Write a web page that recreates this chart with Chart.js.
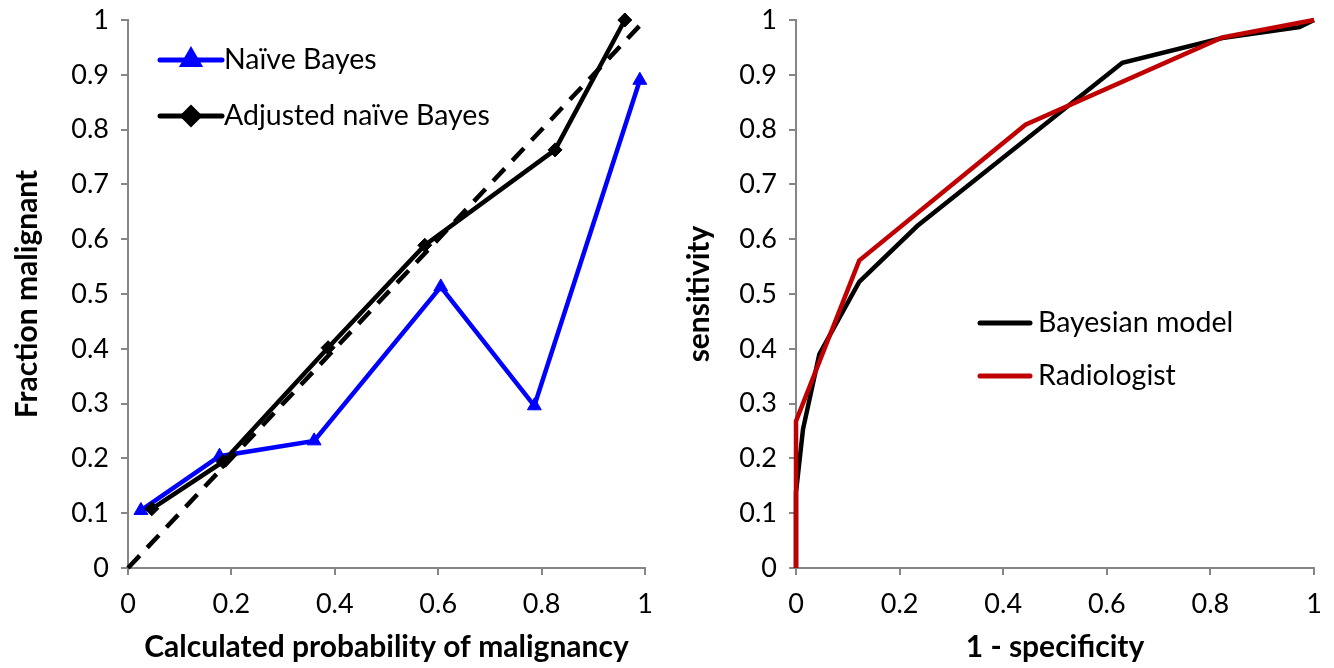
<!DOCTYPE html>
<html>
<head>
<meta charset="utf-8">
<script src="https://cdn.jsdelivr.net/npm/chart.js@4.4.1/dist/chart.umd.min.js"></script>
<style>
html, body { margin: 0; padding: 0; background: #fff; }
#wrap { position: relative; width: 1334px; height: 668px; }
.box { position: absolute; top: 0; width: 667px; height: 668px; }
#left { left: 0; }
#right { left: 667px; }
</style>
</head>
<body>
<div id="wrap">
    <div class="box" id="left"><canvas id="calib"></canvas></div>
    <div class="box" id="right"><canvas id="roc"></canvas></div>
</div>
<script>
// Calibration plot data
const naiveX = [0.025, 0.177, 0.36, 0.605, 0.786, 0.99];
const naiveY = [0.105, 0.204, 0.232, 0.513, 0.296, 0.89];
const adjX = [0.046, 0.184, 0.387, 0.574, 0.826, 0.961];
const adjY = [0.108, 0.194, 0.402, 0.589, 0.763, 1.0];
const diagX = [0, 1];
const diagY = [0, 1];

// ROC data
const bayesX = [0, 0, 0.0135, 0.045, 0.122, 0.234, 0.63, 0.823, 0.972, 1];
const bayesY = [0, 0.138, 0.253, 0.39, 0.522, 0.624, 0.922, 0.967, 0.987, 1];
const radX = [0, 0, 0.122, 0.443, 0.823, 1];
const radY = [0, 0.268, 0.561, 0.809, 0.968, 1];

// Tick labels
const xTicks = ['0', '0.2', '0.4', '0.6', '0.8', '1'];
const yTicks = ['0', '0.1', '0.2', '0.3', '0.4', '0.5', '0.6', '0.7', '0.8', '0.9', '1'];

const FONT = 'Lato, "Open Sans", sans-serif';
const AXIS_GRAY = '#868686';

function toPoints(xs, ys) {
    return xs.map((x, i) => ({ x: x, y: ys[i] }));
}

// Legend drawn inside the plot area, stacked vertically
const insideLegend = {
    id: 'insideLegend',
    afterDraw(chart, args, opts) {
        const ctx = chart.ctx;
        const area = chart.chartArea;
        opts.items.forEach((idx, k) => {
            const ds = chart.data.datasets[idx];
            const x0 = area.left + opts.x;
            const y = area.top + opts.y + k * opts.gap;
            ctx.save();
            ctx.strokeStyle = ds.borderColor;
            ctx.lineWidth = 5;
            ctx.lineCap = 'round';
            ctx.beginPath();
            ctx.moveTo(x0, y);
            ctx.lineTo(x0 + opts.len, y);
            ctx.stroke();
            if (ds.pointRadius > 0) {
                ctx.fillStyle = ds.pointBackgroundColor;
                ctx.strokeStyle = ds.borderColor;
                Chart.helpers.drawPoint(ctx, { pointStyle: ds.pointStyle, radius: ds.pointRadius + 1, borderWidth: 1 }, x0 + opts.len / 2, y);
            }
            ctx.fillStyle = '#000';
            ctx.font = opts.fontSize + 'px ' + FONT;
            ctx.textBaseline = 'middle';
            ctx.fillText(ds.label, x0 + opts.len + opts.textGap, y);
            ctx.restore();
        });
    }
};

function axes(xTitle, yTitle, yWidth, yTitlePad) {
    const grid = { display: true, drawOnChartArea: false, drawTicks: true, tickLength: 7, color: AXIS_GRAY, lineWidth: 2 };
    return {
        x: {
            type: 'linear', min: 0, max: 1,
            ticks: { stepSize: 0.2, callback: (v, i) => xTicks[i], color: '#000', font: { family: FONT, size: 27 }, padding: 13, maxRotation: 0 },
            grid: grid,
            border: { color: AXIS_GRAY, width: 2 },
            title: { display: true, text: xTitle, color: '#000', font: { family: FONT, size: 30, weight: 'bold' }, padding: { top: 4, bottom: 3 } },
            afterFit: s => { s.height = 100; s.paddingLeft = 0; s.paddingRight = 0; }
        },
        y: {
            type: 'linear', min: 0, max: 1,
            ticks: { stepSize: 0.1, callback: (v, i) => yTicks[i], color: '#000', font: { family: FONT, size: 27 }, padding: 12 },
            grid: grid,
            border: { color: AXIS_GRAY, width: 2 },
            title: { display: true, text: yTitle, color: '#000', font: { family: FONT, size: 30, weight: 'bold' }, padding: { top: yTitlePad, bottom: 4 } },
            afterFit: s => { s.width = yWidth; s.paddingTop = 0; s.paddingBottom = 0; }
        }
    };
}

function createCalibChart() {
    const ctx = document.getElementById('calib').getContext('2d');
    return new Chart(ctx, {
        type: 'line',
        data: {
            datasets: [
                {
                    label: 'Naïve Bayes',
                    data: toPoints(naiveX, naiveY),
                    borderColor: '#0000FF', backgroundColor: '#0000FF', pointBackgroundColor: '#0000FF',
                    borderWidth: 4.5, pointStyle: 'triangle', pointRadius: 8, pointBorderWidth: 1,
                    order: 2, clip: false
                },
                {
                    label: 'Adjusted naïve Bayes',
                    data: toPoints(adjX, adjY),
                    borderColor: '#000000', backgroundColor: '#000000', pointBackgroundColor: '#000000',
                    borderWidth: 4.5, pointStyle: 'rectRot', pointRadius: 7, pointBorderWidth: 1,
                    order: 1, clip: false
                },
                {
                    label: 'Reference',
                    data: toPoints(diagX, diagY),
                    borderColor: '#000000', borderWidth: 4.5, borderDash: [17, 11],
                    pointRadius: 0, order: 0, clip: false
                }
            ]
        },
        options: {
            responsive: true,
            maintainAspectRatio: false,
            animation: false,
            devicePixelRatio: 1,
            layout: { padding: { top: 20, right: 22, left: 0, bottom: 0 } },
            plugins: {
                legend: { display: false },
                tooltip: { enabled: false },
                insideLegend: { items: [0, 1], x: 32, y: 40, gap: 56, len: 62, textGap: 2, fontSize: 28.5 }
            },
            scales: axes('Calculated probability of malignancy', 'Fraction malignant', 128, 9)
        },
        plugins: [insideLegend]
    });
}

function createRocChart() {
    const ctx = document.getElementById('roc').getContext('2d');
    return new Chart(ctx, {
        type: 'line',
        data: {
            datasets: [
                {
                    label: 'Bayesian model',
                    data: toPoints(bayesX, bayesY),
                    borderColor: '#000000', borderWidth: 4.5, pointRadius: 0,
                    order: 1, clip: false
                },
                {
                    label: 'Radiologist',
                    data: toPoints(radX, radY),
                    borderColor: '#C00000', borderWidth: 4.5, pointRadius: 0,
                    order: 0, clip: false
                }
            ]
        },
        options: {
            responsive: true,
            maintainAspectRatio: false,
            animation: false,
            devicePixelRatio: 1,
            layout: { padding: { top: 20, right: 20, left: 0, bottom: 0 } },
            plugins: {
                legend: { display: false },
                tooltip: { enabled: false },
                insideLegend: { items: [0, 1], x: 184, y: 303, gap: 53, len: 50, textGap: 8, fontSize: 28.5 }
            },
            scales: axes('1 - specificity', 'sensitivity', 129, 14)
        },
        plugins: [insideLegend]
    });
}

document.addEventListener('DOMContentLoaded', () => {
    createCalibChart();
    createRocChart();
});
</script>
</body>
</html>
